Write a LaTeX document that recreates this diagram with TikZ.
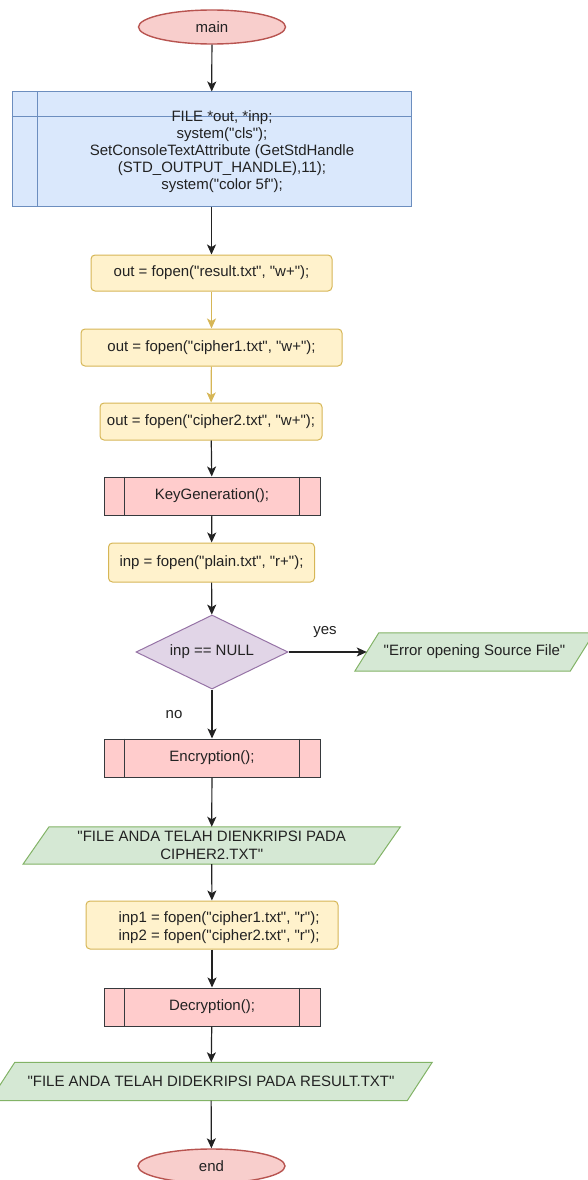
\documentclass[tikz,border=0pt]{standalone}
\usepackage{fontspec}
\setmainfont{Liberation Sans}
\usetikzlibrary{shapes.geometric,arrows.meta,backgrounds}
\definecolor{redfill}{HTML}{F8CECC}
\definecolor{redline}{HTML}{B85450}
\definecolor{bluefill}{HTML}{DAE8FC}
\definecolor{blueline}{HTML}{6C8EBF}
\definecolor{yelfill}{HTML}{FFF2CC}
\definecolor{yelline}{HTML}{D6B656}
\definecolor{procfill}{HTML}{FFCCCC}
\definecolor{procline}{HTML}{36393D}
\definecolor{purfill}{HTML}{E1D5E7}
\definecolor{purline}{HTML}{9673A6}
\definecolor{grnfill}{HTML}{D5E8D4}
\definecolor{grnline}{HTML}{82B366}
\definecolor{txt}{HTML}{222222}
\newcommand{\dq}{\textquotedbl{}}
\tikzset{
  base/.style={inner sep=0pt, text=txt, font=\fontsize{15}{18}\selectfont, align=center},
  term/.style={base, ellipse, draw=redline, fill=redfill, line width=1.4pt, minimum width=147pt, minimum height=34pt},
  store/.style={base, rectangle, draw=blueline, fill=bluefill, line width=1pt},
  act/.style={base, rectangle, rounded corners=4pt, draw=yelline, fill=yelfill, line width=1pt},
  proc/.style={base, rectangle, draw=procline, fill=procfill, line width=1pt, minimum width=216pt, minimum height=38pt},
  decide/.style={base, diamond, aspect=2.05, draw=purline, fill=purfill, line width=1pt, minimum width=152pt, minimum height=74pt},
  iobox/.style={base, rectangle},
  iopath/.style={draw=grnline, fill=grnfill, line width=1pt},
  flow/.style={draw=txt, line width=1.2pt, -{Stealth[length=10pt,width=9pt,inset=2.5pt]}},
  goldflow/.style={draw=yelline, line width=1.2pt, -{Stealth[length=10pt,width=9pt,inset=2.5pt]}},
  lbl/.style={base}
}
\begin{document}
\begin{tikzpicture}[x=1pt,y=-1pt]
\useasboundingbox (0,0) rectangle (587,1180);
\clip (0,0) rectangle (587,1180);

\node[term] (main) at (212,27) {main};

\node[store, minimum width=399pt, minimum height=114pt] (blue) at (211.5,149) {};
\draw[blueline, line width=1pt] ([xshift=26pt]blue.north west) -- ([xshift=26pt]blue.south west);
\draw[blueline, line width=1pt] ([yshift=-25pt]blue.north west) -- ([yshift=-25pt]blue.north east);
\node[base, font=\fontsize{15}{17}\selectfont] (bluetext) at (222,152) {FILE *out, *inp;\\system(\dq cls\dq);\\SetConsoleTextAttribute (GetStdHandle\\(STD\_OUTPUT\_HANDLE),11);\\system(\dq color 5f\dq);};

\node[act, minimum width=241pt, minimum height=36pt] (o1) at (211.5,273) {out = fopen(\dq result.txt\dq, \dq w+\dq);};
\node[act, minimum width=261pt, minimum height=37pt] (o2) at (211.5,347.5) {out = fopen(\dq cipher1.txt\dq, \dq w+\dq);};
\node[act, minimum width=222pt, minimum height=37pt] (o3) at (211,421.5) {out = fopen(\dq cipher2.txt\dq, \dq w+\dq);};

\node[proc] (kg) at (212,496) {KeyGeneration();};
\draw[procline, line width=1pt] ([xshift=21pt]kg.north west) -- ([xshift=21pt]kg.south west);
\draw[procline, line width=1pt] ([xshift=-21pt]kg.north east) -- ([xshift=-21pt]kg.south east);

\node[act, minimum width=206pt, minimum height=39pt] (inp) at (211.5,562.5) {inp = fopen(\dq plain.txt\dq, \dq r+\dq);};

\node[decide] (dec) at (212,652) {inp == NULL};

\node[iobox, minimum width=215pt, minimum height=38pt] (err) at (474.5,652) {\dq Error opening Source File\dq};

\node[proc] (enc) at (212,758) {Encryption();};
\draw[procline, line width=1pt] ([xshift=21pt]enc.north west) -- ([xshift=21pt]enc.south west);
\draw[procline, line width=1pt] ([xshift=-21pt]enc.north east) -- ([xshift=-21pt]enc.south east);

\node[iobox, minimum width=351pt, minimum height=37pt] (pc) at (211.7,845.5) {\dq FILE ANDA TELAH DIENKRIPSI PADA\\CIPHER2.TXT\dq};

\node[act, minimum width=252pt, minimum height=48pt] (ib) at (212,925) {};
\node[base] (ibtext) at (219,928) {inp1 = fopen(\dq cipher1.txt\dq, \dq r\dq);\\inp2 = fopen(\dq cipher2.txt\dq, \dq r\dq);};

\node[proc] (decr) at (212,1007) {Decryption();};
\draw[procline, line width=1pt] ([xshift=21pt]decr.north west) -- ([xshift=21pt]decr.south west);
\draw[procline, line width=1pt] ([xshift=-21pt]decr.north east) -- ([xshift=-21pt]decr.south east);

\node[iobox, minimum width=417pt, minimum height=38pt] (pr) at (211,1081.5) {\dq FILE ANDA TELAH DIDEKRIPSI PADA RESULT.TXT\dq};

\node[term] (endn) at (211.5,1166) {end};

\begin{scope}[on background layer]
\path[iopath] ([xshift=12pt]err.north west) -- ([xshift=12pt]err.north east) -- ([xshift=-12pt]err.south east) -- ([xshift=-12pt]err.south west) -- cycle;
\path[iopath] ([xshift=13pt]pc.north west) -- ([xshift=13pt]pc.north east) -- ([xshift=-13pt]pc.south east) -- ([xshift=-13pt]pc.south west) -- cycle;
\path[iopath] ([xshift=12.5pt]pr.north west) -- ([xshift=12.5pt]pr.north east) -- ([xshift=-12.5pt]pr.south east) -- ([xshift=-12.5pt]pr.south west) -- cycle;
\end{scope}

\draw[flow] (main) -- (blue);
\draw[flow] (blue) -- (o1);
\draw[goldflow] (o1) -- (o2);
\draw[goldflow] (o2) -- (o3);
\draw[flow] (o3) -- (kg);
\draw[flow] (kg) -- (inp);
\draw[flow] (inp) -- (dec);
\draw[flow] (dec.east) -- (err.west);
\node[lbl] (yes) at (325,632) {yes};
\draw[flow] (dec.south) -- (enc.north);
\node[lbl] (no) at (174,715) {no};
\draw[flow] (enc) -- (pc);
\draw[flow] (pc) -- (ib);
\draw[flow] (ib) -- (decr);
\draw[flow] (decr) -- (pr);
\draw[flow] (pr) -- (endn);
\end{tikzpicture}
\end{document}
